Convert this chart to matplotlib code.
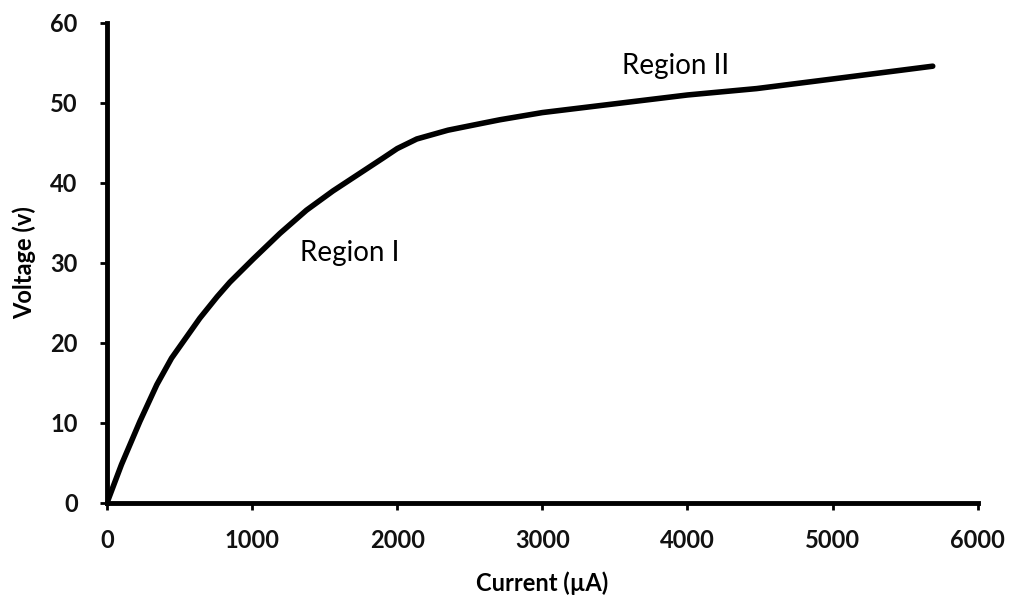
import matplotlib
matplotlib.use("Agg")
import matplotlib.pyplot as plt

current = [0, 100, 227, 344, 445, 640, 760, 847, 1008, 1192, 1375, 1557, 1750, 1901, 2000, 2135, 2350, 2569, 2707, 3000, 3500, 4000, 4477, 5000, 5690]
voltage = [0, 4.8, 10.2, 14.8, 18.1, 23.1, 25.8, 27.6, 30.5, 33.7, 36.6, 39.0, 41.3, 43.1, 44.3, 45.5, 46.6, 47.4, 47.9, 48.8, 49.9, 51.0, 51.8, 53.0, 54.6]
xticks = [0, 1000, 2000, 3000, 4000, 5000, 6000]
yticks = [0, 10, 20, 30, 40, 50, 60]

plt.rcParams['font.family'] = ['Lato', 'DejaVu Sans']

fig = plt.figure(figsize=(10.09, 6.0), dpi=100)
ax = fig.add_axes([0.106, 0.1617, 0.863, 0.80])
ax.plot(current, voltage, color='black', lw=4, solid_joinstyle='round', solid_capstyle='round')
ax.set_xlim(0, 6000)
ax.set_ylim(0, 60)
ax.set_xticks(xticks)
ax.set_yticks(yticks)
for s in ['top', 'right']:
    ax.spines[s].set_visible(False)
for s in ['left', 'bottom']:
    ax.spines[s].set_linewidth(3.5)
ax.tick_params(direction='out', length=5, width=2, labelsize=17, labelcolor='#111111')
ax.tick_params(axis='x', pad=14)
ax.tick_params(axis='y', pad=16)
for lab in ax.get_xticklabels() + ax.get_yticklabels():
    lab.set_fontweight('bold')
ax.set_xlabel('Current (µA)', fontsize=17, fontweight='bold', labelpad=14)
ax.set_ylabel('Voltage (v)', fontsize=17, fontweight='bold', labelpad=10)
ax.text(1329, 31.2, 'Region I', fontsize=20, va='center', ha='left')
ax.text(3547, 54.6, 'Region II', fontsize=20, va='center', ha='left')
fig.savefig('out.png', dpi=100)
